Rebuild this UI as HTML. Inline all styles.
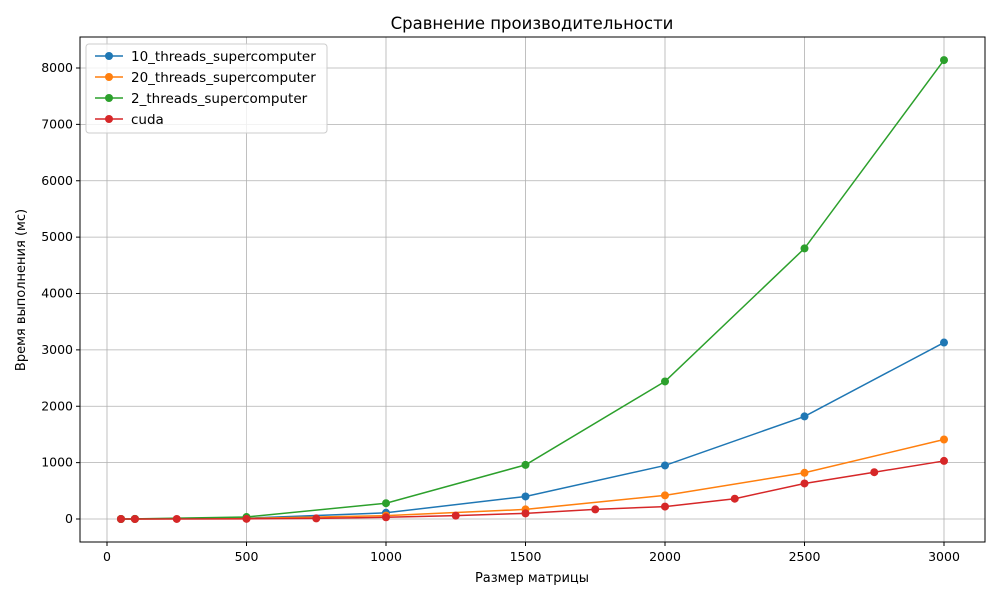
<!DOCTYPE html>
<html><head><meta charset="utf-8"><style>
body{margin:0;background:#fff}
svg{font-family:"DejaVu Sans","Liberation Sans",sans-serif}
</style></head><body>
<svg id="chart" width="1000" height="600">
<rect x="0" y="0" width="1000" height="600" fill="#fff"/>
<text x="532" y="29" text-anchor="middle" font-size="16.5">Сравнение производительности</text>
<g id="grid"></g>
<g id="series"></g>
<rect x="80" y="37" width="905" height="505" fill="none" stroke="#000" stroke-width="1"/>
<g id="axes" font-size="12.5"></g>
<text x="532" y="582" text-anchor="middle" font-size="13">Размер матрицы</text>
<text transform="translate(25,290) rotate(-90)" text-anchor="middle" font-size="13">Время выполнения (мс)</text>
<g id="legend"></g>
</svg>
<script>
const seriesNames = ["10_threads_supercomputer","20_threads_supercomputer","2_threads_supercomputer","cuda"];
const colors = ["#1f77b4","#ff7f0e","#2ca02c","#d62728"];
const threadX = [50,100,500,1000,1500,2000,2500,3000];
const t10 = [0,1,15,110,400,950,1820,3130];
const t20 = [0,1,10,60,170,420,820,1410];
const t2 = [0,2,35,280,960,2440,4800,8140];
const cudaX = [50,100,250,500,750,1000,1250,1500,1750,2000,2250,2500,2750,3000];
const cudaY = [0,0,1,3,10,30,60,100,170,220,360,630,830,1030];
const xTicks = [0,500,1000,1500,2000,2500,3000];
const yTicks = [0,1000,2000,3000,4000,5000,6000,7000,8000];

const NS="http://www.w3.org/2000/svg";
function xs(v){return 107+v*(944-107)/3000;}
function ys(v){return 519-v*(519-68)/8000;}
function mk(tag,attrs,parent){const e=document.createElementNS(NS,tag);for(const k in attrs)e.setAttribute(k,attrs[k]);parent.appendChild(e);return e;}
const grid=document.getElementById('grid'),axes=document.getElementById('axes'),ser=document.getElementById('series'),leg=document.getElementById('legend');
xTicks.forEach(t=>{
  const g=mk('line',{x1:xs(t),x2:xs(t),y1:37,y2:542,stroke:'#b0b0b0','stroke-width':0.8},grid);
  
  
  mk('line',{x1:xs(t),x2:xs(t),y1:542,y2:546,stroke:'#000'},axes);
  const tx=mk('text',{x:xs(t),y:561,'text-anchor':'middle'},axes);tx.textContent=t;
  
  
});
yTicks.forEach(t=>{
  const g=mk('line',{x1:80,x2:985,y1:ys(t),y2:ys(t),stroke:'#b0b0b0','stroke-width':0.8},grid);
  
  
  mk('line',{x1:76,x2:80,y1:ys(t),y2:ys(t),stroke:'#000'},axes);
  const tx=mk('text',{x:73,y:ys(t)+4,'text-anchor':'end'},axes);tx.textContent=t;
  
  
});
const data=[[threadX,t10],[threadX,t20],[threadX,t2],[cudaX,cudaY]];
data.forEach((d,i)=>{
  const pts=d[0].map((x,j)=>xs(x)+','+ys(d[1][j])).join(' ');
  const pl=mk('polyline',{points:pts,fill:'none',stroke:colors[i],'stroke-width':1.5},ser);
  
  
  d[0].forEach((x,j)=>{
    const c=mk('circle',{cx:xs(x),cy:ys(d[1][j]),r:4,fill:colors[i]},ser);
    
    
  });
});
const lb=mk('rect',{x:86,y:44,width:241,height:89,rx:3,fill:'#fff','fill-opacity':0.8,stroke:'#ccc'},leg);


seriesNames.forEach((n,i)=>{
  const y=56+i*21;
  const g=mk('g',{},leg);
  
  
  mk('line',{x1:95,x2:123,y1:y,y2:y,stroke:colors[i],'stroke-width':1.5},g);
  mk('circle',{cx:109,cy:y,r:4,fill:colors[i]},g);
  const t=mk('text',{x:131,y:y+5,'font-size':13.5},g);t.textContent=n;
});
</script>
</body></html>
